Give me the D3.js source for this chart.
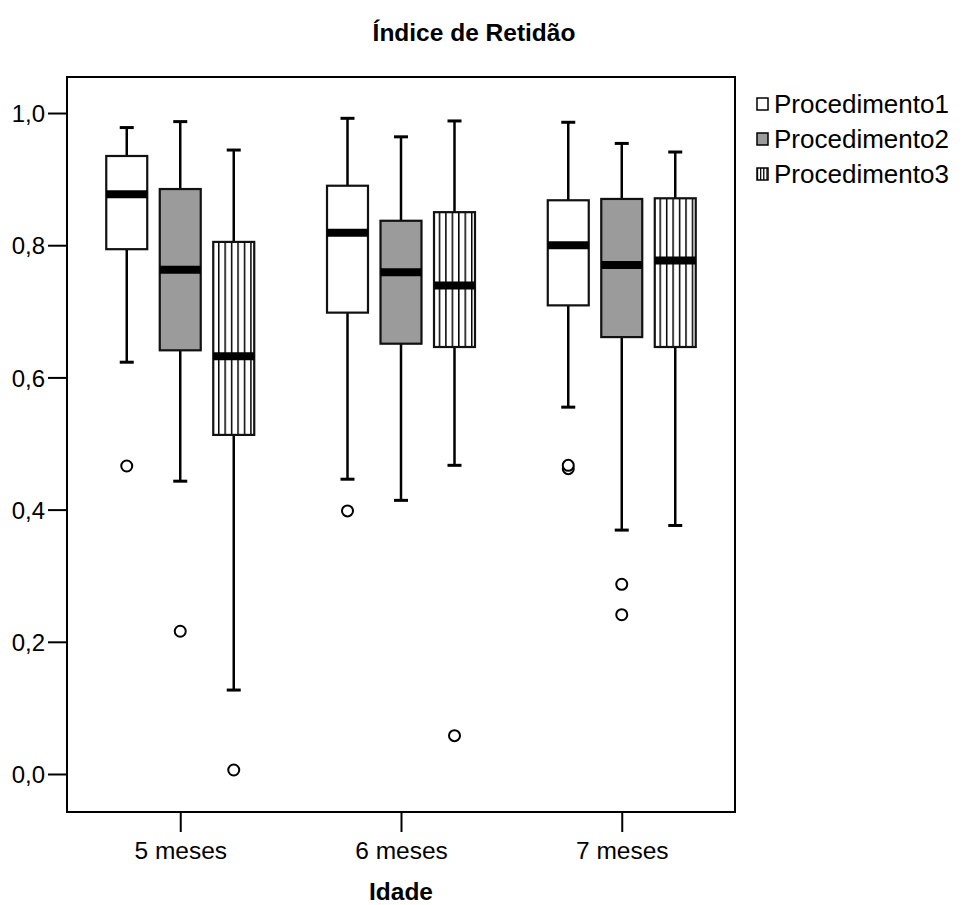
<!DOCTYPE html>
<html>
<head>
<meta charset="utf-8">
<script src="https://cdn.jsdelivr.net/npm/d3@7"></script>
<style>
  body { margin: 0; background: #fff; }
  svg { font-family: "Liberation Sans", Arial, sans-serif; }
</style>
</head>
<body>
<svg width="963" height="905"></svg>
<script>
"use strict"

// grupos (eixo X) e séries
const groups = ["5 meses", "6 meses", "7 meses"]
const procedures = ["Procedimento1", "Procedimento2", "Procedimento3"]
const yTicks = [0, 0.2, 0.4, 0.6, 0.8, 1.0]

// estatísticas, por grupo: [bigode inf, Q1, mediana, Q3, bigode sup]
const proc1Stats = [
    [0.623, 0.794, 0.877, 0.935, 0.978],
    [0.446, 0.698, 0.819, 0.890, 0.992],
    [0.555, 0.709, 0.800, 0.868, 0.986]
]
const proc2Stats = [
    [0.443, 0.641, 0.763, 0.885, 0.987],
    [0.414, 0.651, 0.759, 0.837, 0.964],
    [0.369, 0.661, 0.770, 0.870, 0.954]
]
const proc3Stats = [
    [0.127, 0.513, 0.632, 0.805, 0.944],
    [0.467, 0.646, 0.739, 0.850, 0.988],
    [0.376, 0.646, 0.777, 0.871, 0.941]
]
// valores atípicos por grupo
const proc1Outliers = [[0.466], [0.398], [0.462, 0.467]]
const proc2Outliers = [[0.216], [], [0.287, 0.241]]
const proc3Outliers = [[0.006], [0.058], []]

const statsBy = [proc1Stats, proc2Stats, proc3Stats]
const outliersBy = [proc1Outliers, proc2Outliers, proc3Outliers]

// tabela de caixas para o desenho
let boxes = []
procedures.forEach((p, i) => {
    groups.forEach((g, j) => {
        const s = statsBy[i][j]
        boxes.push({group: g, proc: p, idx: i, low: s[0], q1: s[1], med: s[2], q3: s[3], high: s[4], out: outliersBy[i][j]})
    })
})

const svg = d3.select("svg")
const area = {left: 67, top: 77, width: 668, height: 735}
const fontSize = "24px"

// escalas
const scaleX = d3.scalePoint().domain(groups).range([0, area.width]).padding(0.513)
const scaleInner = d3.scaleBand().domain(procedures).range([-80.25, 80.25]).paddingInner(0.234).paddingOuter(0.117)
const scaleY = d3.scaleLinear().domain([-0.0575, 1.0545]).range([area.height, 0])

const fills = ["#ffffff", "#9b9b9b"]

const defs = svg.append("defs")

const plot = svg.append("g").attr("transform", `translate(${area.left}, ${area.top})`)

// padrões de listras verticais, um por caixa (alinhado à borda)
boxes.filter(d => d.idx == 2).forEach((d, k) => {
    const x0 = area.left + scaleX(d.group) + scaleInner(d.proc)
    const pat = defs.append("pattern")
        .attr("id", "hatch" + k)
        .attr("patternUnits", "userSpaceOnUse")
        .attr("x", x0 + 2.2).attr("y", 0)
        .attr("width", 6.45).attr("height", 20)
    pat.append("rect").attr("width", 6.45).attr("height", 20).attr("fill", "#fff")
    pat.append("line").attr("x1", 0.75).attr("x2", 0.75).attr("y1", 0).attr("y2", 20)
        .attr("stroke", "#000").attr("stroke-width", 1.5)
    d.pattern = "url(#hatch" + k + ")"
})

// eixo Y
const axisY = d3.axisLeft(scaleY)
    .tickValues(yTicks)
    .tickSize(19)
    .tickPadding(3)
    .tickFormat(d => d3.format(".1f")(d).replace(".", ","))
plot.append("g").call(axisY)
    .call(g => g.select(".domain").remove())
    .call(g => g.selectAll("line").attr("stroke", "#000").attr("stroke-width", 2))
    .call(g => g.selectAll("text").attr("fill", "#000").style("font-size", fontSize).attr("dy", "0.36em"))

// eixo X
const axisX = d3.axisBottom(scaleX).tickSize(20).tickPadding(10)
plot.append("g").attr("transform", `translate(0, ${area.height})`).call(axisX)
    .call(g => g.select(".domain").remove())
    .call(g => g.selectAll("line").attr("stroke", "#000").attr("stroke-width", 2))
    .call(g => g.selectAll("text").attr("fill", "#000").style("font-size", "24.5px"))

// moldura
plot.append("rect")
    .attr("width", area.width).attr("height", area.height)
    .attr("fill", "none").attr("stroke", "#000").attr("stroke-width", 2)

const cx = d => scaleX(d.group) + scaleInner(d.proc) + scaleInner.bandwidth() / 2
const capW = 14

const bx = plot.selectAll(".box").data(boxes).enter().append("g").attr("class", "box")

// bigodes
bx.append("line")
    .attr("x1", cx).attr("x2", cx)
    .attr("y1", d => scaleY(d.high)).attr("y2", d => scaleY(d.q3))
    .attr("stroke", "#000").attr("stroke-width", 2.5)
bx.append("line")
    .attr("x1", cx).attr("x2", cx)
    .attr("y1", d => scaleY(d.q1)).attr("y2", d => scaleY(d.low))
    .attr("stroke", "#000").attr("stroke-width", 2.5)
bx.append("line")
    .attr("x1", d => cx(d) - capW / 2).attr("x2", d => cx(d) + capW / 2)
    .attr("y1", d => scaleY(d.high)).attr("y2", d => scaleY(d.high))
    .attr("stroke", "#000").attr("stroke-width", 3)
bx.append("line")
    .attr("x1", d => cx(d) - capW / 2).attr("x2", d => cx(d) + capW / 2)
    .attr("y1", d => scaleY(d.low)).attr("y2", d => scaleY(d.low))
    .attr("stroke", "#000").attr("stroke-width", 3)

// caixas
bx.append("rect")
    .attr("x", d => scaleX(d.group) + scaleInner(d.proc))
    .attr("y", d => scaleY(d.q3))
    .attr("width", scaleInner.bandwidth())
    .attr("height", d => scaleY(d.q1) - scaleY(d.q3))
    .attr("fill", d => d.idx == 2 ? d.pattern : fills[d.idx])
    .attr("stroke", "#111").attr("stroke-width", 2.2)

// medianas
bx.append("line")
    .attr("x1", d => scaleX(d.group) + scaleInner(d.proc))
    .attr("x2", d => scaleX(d.group) + scaleInner(d.proc) + scaleInner.bandwidth())
    .attr("y1", d => scaleY(d.med)).attr("y2", d => scaleY(d.med))
    .attr("stroke", "#000").attr("stroke-width", 8)

// valores atípicos
bx.selectAll("circle")
    .data(d => d.out.map(v => ({v: v, box: d})))
    .enter().append("circle")
    .attr("cx", o => cx(o.box))
    .attr("cy", o => scaleY(o.v))
    .attr("r", 5.5)
    .attr("fill", "#fff").attr("stroke", "#000").attr("stroke-width", 2)

// títulos
svg.append("text")
    .attr("x", 474).attr("y", 41)
    .attr("text-anchor", "middle")
    .style("font-size", "24.5px").style("font-weight", "bold")
    .text("Índice de Retidão")

svg.append("text")
    .attr("x", area.left + area.width / 2).attr("y", 900)
    .attr("text-anchor", "middle")
    .style("font-size", "24.5px").style("font-weight", "bold")
    .text("Idade")

// legenda
const legPat = defs.append("pattern")
    .attr("id", "hatchLeg").attr("patternUnits", "userSpaceOnUse")
    .attr("x", 757 + 1.2).attr("y", 0).attr("width", 3.2).attr("height", 20)
legPat.append("rect").attr("width", 3.2).attr("height", 20).attr("fill", "#fff")
legPat.append("line").attr("x1", 0.6).attr("x2", 0.6).attr("y1", 0).attr("y2", 20)
    .attr("stroke", "#000").attr("stroke-width", 1.2)
const legFills = ["#ffffff", "#9b9b9b", "url(#hatchLeg)"]

const legend = svg.append("g").attr("transform", "translate(757, 104)")
const item = legend.selectAll(".legend-item")
    .data(procedures)
    .enter().append("g")
    .attr("class", "legend-item")
    .attr("transform", (d, i) => `translate(0, ${i * 35})`)
item.append("rect")
    .attr("x", 0).attr("y", -6).attr("width", 11).attr("height", 12)
    .attr("fill", (d, i) => legFills[i])
    .attr("stroke", "#000").attr("stroke-width", 1.5)
item.append("text")
    .attr("x", 17).attr("y", 0).attr("dy", "0.36em")
    .style("font-size", "26px")
    .text(d => d)
</script>
</body>
</html>
